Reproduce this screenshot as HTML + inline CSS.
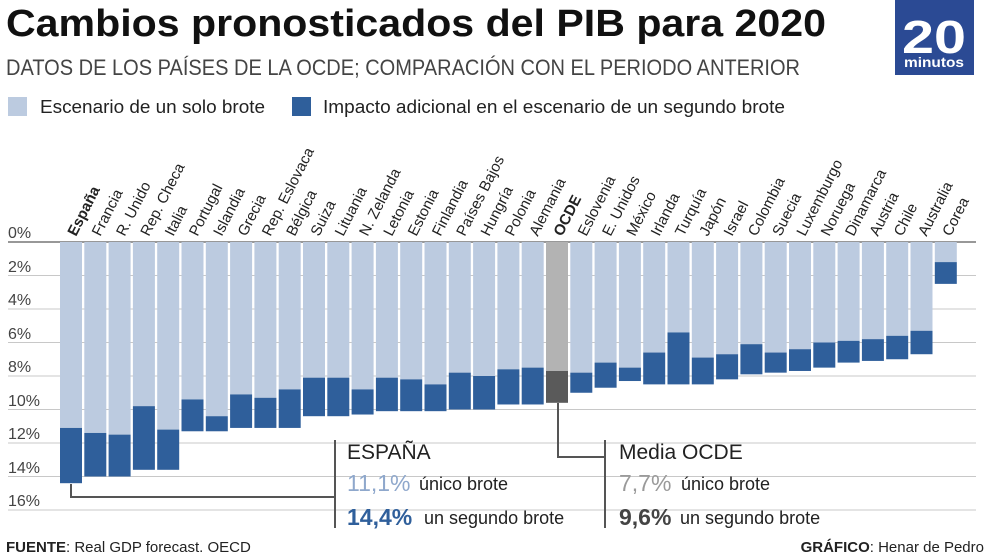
<!DOCTYPE html>
<html><head><meta charset="utf-8"><style>
body{margin:0;background:#fff}
svg{display:block;font-family:"Liberation Sans Narrow","Liberation Sans",sans-serif}
</style></head><body>
<svg id="s" width="990" height="556" viewBox="0 0 990 556" xmlns="http://www.w3.org/2000/svg">
<text x="6" y="36" font-size="38" font-weight="bold" fill="#111" textLength="820" lengthAdjust="spacingAndGlyphs" font-family="Liberation Sans">Cambios pronosticados del PIB para 2020</text>
<text x="6" y="75" font-size="22" fill="#444" textLength="794" lengthAdjust="spacingAndGlyphs">DATOS DE LOS PAÍSES DE LA OCDE; COMPARACIÓN CON EL PERIODO ANTERIOR</text>
<rect x="895" y="0" width="79" height="75" fill="#2b4a94"/>
<text x="934" y="53" font-size="46" font-weight="bold" fill="#fff" text-anchor="middle" textLength="64" lengthAdjust="spacingAndGlyphs" font-family="Liberation Sans">20</text>
<text x="934" y="67" font-size="14" font-weight="bold" fill="#fff" text-anchor="middle" textLength="60" lengthAdjust="spacingAndGlyphs" font-family="Liberation Sans">minutos</text>
<rect x="8" y="97" width="19" height="19" fill="#bccbe0"/>
<text x="40" y="113" font-size="18" fill="#222" textLength="225" lengthAdjust="spacingAndGlyphs">Escenario de un solo brote</text>
<rect x="292" y="97" width="19" height="19" fill="#2f5f9b"/>
<text x="323" y="113" font-size="18" fill="#222" textLength="462" lengthAdjust="spacingAndGlyphs">Impacto adicional en el escenario de un segundo brote</text>
<g id="grid" font-size="16" fill="#444">
<text x="8" y="238">0%</text><text x="8" y="272">2%</text><text x="8" y="305">4%</text><text x="8" y="339">6%</text><text x="8" y="372">8%</text><text x="8" y="406">10%</text><text x="8" y="439">12%</text><text x="8" y="473">14%</text><text x="8" y="506">16%</text>
</g>
<g id="bars"></g>
<g id="labels" font-size="15" fill="#222">
<text font-weight="bold">España</text><text>Francia</text><text>R. Unido</text><text>Rep. Checa</text><text>Italia</text><text>Portugal</text><text>Islandia</text><text>Grecia</text><text>Rep. Eslovaca</text><text>Bélgica</text><text>Suiza</text><text>Lituania</text><text>N. Zelanda</text><text>Letonia</text><text>Estonia</text><text>Finlandia</text><text>Países Bajos</text><text>Hungría</text><text>Polonia</text><text>Alemania</text><text font-weight="bold">OCDE</text><text>Eslovenia</text><text>E. Unidos</text><text>México</text><text>Irlanda</text><text>Turquía</text><text>Japón</text><text>Israel</text><text>Colombia</text><text>Suecia</text><text>Luxemburgo</text><text>Noruega</text><text>Dinamarca</text><text>Austria</text><text>Chile</text><text>Australia</text><text>Corea</text>
</g>
<path d="M71 484V497H335M335 440V528M558 403V457H605M605 440V528" stroke="#555" stroke-width="2" fill="none"/>
<text x="347" y="459" font-size="21" fill="#222">ESPAÑA</text>
<text x="347" y="491" font-size="23" fill="#8fa8cc">11,1%</text><text x="419" y="490" font-size="18" fill="#222">único brote</text>
<text x="347" y="525" font-size="23" fill="#2f5f9b" font-weight="bold">14,4%</text><text x="424" y="524" font-size="18" fill="#222">un segundo brote</text>
<text x="619" y="459" font-size="21" fill="#222">Media OCDE</text>
<text x="619" y="491" font-size="23" fill="#9a9a9a">7,7%</text><text x="681" y="490" font-size="18" fill="#222">único brote</text>
<text x="619" y="525" font-size="23" fill="#444" font-weight="bold">9,6%</text><text x="680" y="524" font-size="18" fill="#222">un segundo brote</text>
<text x="6" y="552" font-size="15" fill="#222"><tspan font-weight="bold">FUENTE</tspan>: Real GDP forecast. OECD</text>
<text x="984" y="552" font-size="15" fill="#222" text-anchor="end"><tspan font-weight="bold">GRÁFICO</tspan>: Henar de Pedro</text>
</svg>
<script>
var NS="http://www.w3.org/2000/svg";
var d=[[11.1,14.4],[11.4,14.0],[11.5,14.0],[9.8,13.6],[11.2,13.6],[9.4,11.3],[10.4,11.3],[9.1,11.1],[9.3,11.1],[8.8,11.1],[8.1,10.4],[8.1,10.4],[8.8,10.3],[8.1,10.1],[8.2,10.1],[8.5,10.1],[7.8,10.0],[8.0,10.0],[7.6,9.7],[7.5,9.7],[7.7,9.6],[7.8,9.0],[7.2,8.7],[7.5,8.3],[6.6,8.5],[5.4,8.5],[6.9,8.5],[6.7,8.2],[6.1,7.9],[6.6,7.8],[6.4,7.7],[6.0,7.5],[5.9,7.2],[5.8,7.1],[5.6,7.0],[5.3,6.7],[1.2,2.5]];
function Y(v){return 242+16.75*v}
var g=document.getElementById('bars');
function el(n,a){var e=document.createElementNS(NS,n);for(var k in a)e.setAttribute(k,a[k]);g.appendChild(e);return e}
for(var v=0;v<=16;v+=2)el('line',{x1:8,x2:976,y1:Y(v),y2:Y(v),stroke:v==0?'#777':'#c8c8c8','stroke-width':v==0?1.5:1});
var labs=document.getElementById('labels').children;
for(var i=0;i<37;i++){
 var x=60+i*24.3,w=22,o=i==20;
 el('rect',{x:x,y:Y(0),width:w,height:Y(d[i][0])-Y(0),fill:o?'#b3b3b3':'#bccbe0'});
 el('rect',{x:x,y:Y(d[i][0]),width:w,height:Y(d[i][1])-Y(d[i][0]),fill:o?'#5a5a5a':'#2f5f9b'});
 var cx=x+w/2+5;
 labs[i].setAttribute('transform','translate('+cx+',237) rotate(-63)');
}
</script>
</body></html>
